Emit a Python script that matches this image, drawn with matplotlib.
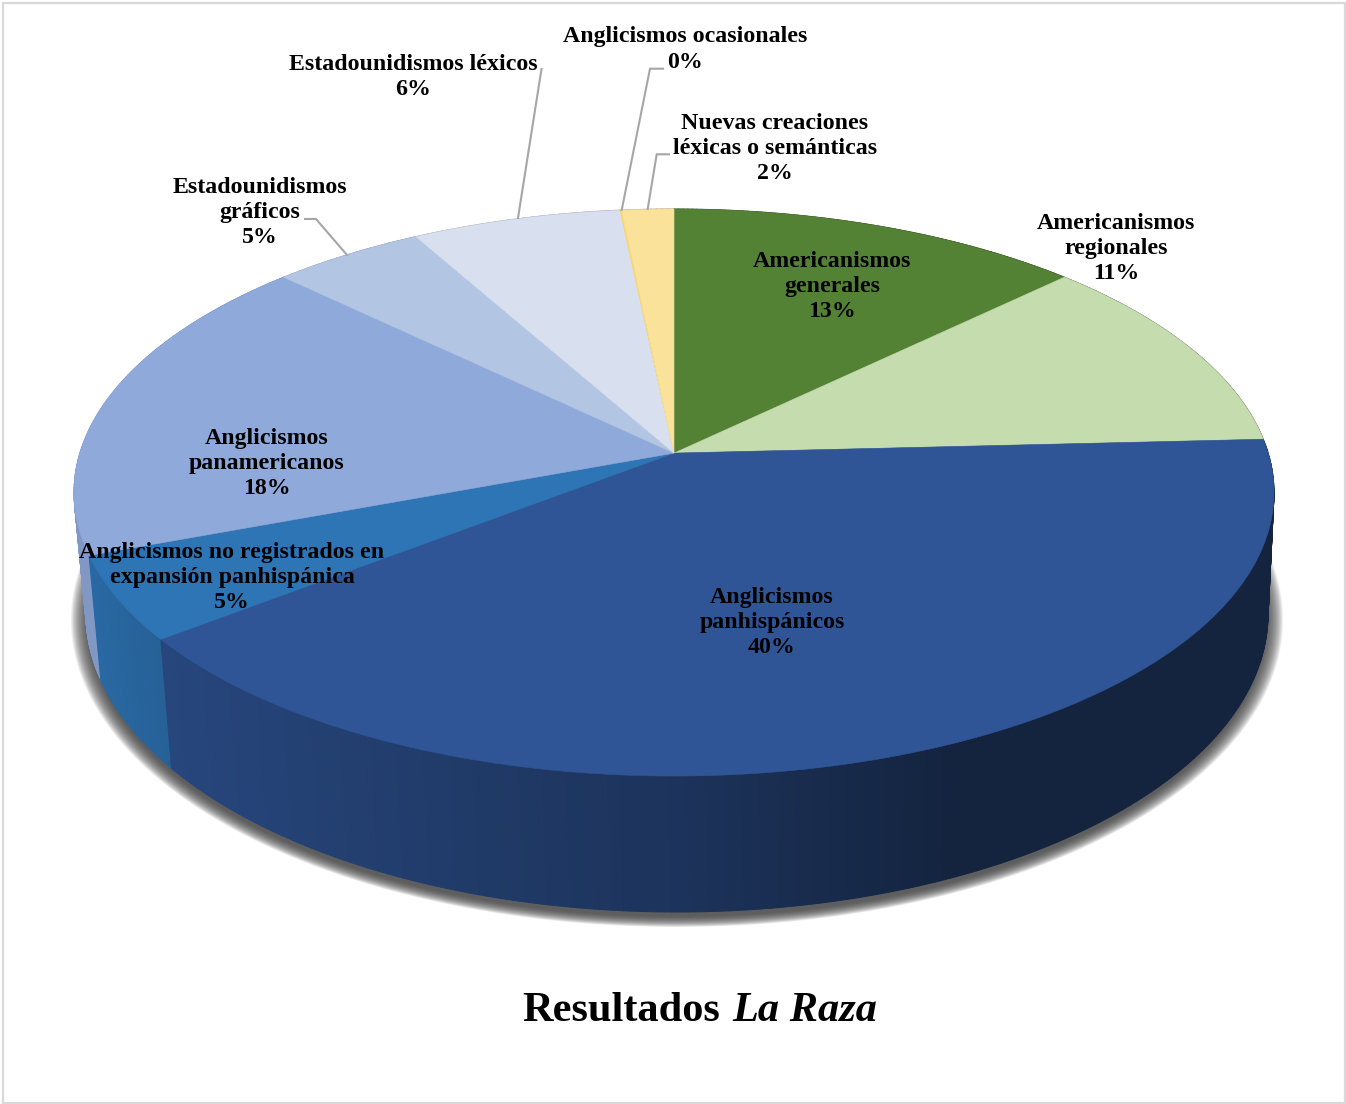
import numpy as np
import matplotlib
matplotlib.use("Agg")
import matplotlib.pyplot as plt
from matplotlib.collections import PolyCollection
from matplotlib.colors import to_rgb
from matplotlib.patches import Rectangle

# ---- data ----
categories = ["Americanismos\ngenerales", "Americanismos\nregionales", "Anglicismos\npanhispánicos",
              "Anglicismos no registrados en\nexpansión panhispánica", "Anglicismos\npanamericanos",
              "Estadounidismos\ngráficos", "Estadounidismos léxicos", "Anglicismos ocasionales",
              "Nuevas creaciones\nléxicas o semánticas"]
shares = [12.8, 11.4, 40.3, 4.8, 17.9, 4.7, 6.45, 0.05, 1.6]
colors = ["#548235", "#C5DDAE", "#2F5597", "#2E75B6", "#8FA9DB", "#B2C6E4", "#D8DFEF", "#FFD966", "#FAE29A"]
label_x = [832, 1116, 772, 232, 267, 259.5, 413, 685, 775]
label_y = [286.5, 248.5, 622.5, 577.5, 463.5, 212.5, 77, 49.5, 148.5]
title_main = "Resultados"
title_ital = "La Raza"

# ---- geometry of the perspective disk ----
TOP_CX, TOP_CY, TOP_A, TOP_B = 674, 492.5, 600, 283.5
BOT_CX, BOT_CY, BOT_A, BOT_B = 677, 614, 591, 298
PERSP = 0.139


def project(theta, cx, cy, a, b, r=1.0):
    """theta in radians clockwise from 12 o'clock, on the unit disk, to pixels"""
    x, y = r * np.sin(theta), r * np.cos(theta)
    d = 1 + PERSP * y
    return cx + a * x * np.sqrt(1 - PERSP ** 2) / d, cy - b * (y + PERSP) / d


def shade(x):
    return np.interp(x, [90, 170, 680, 950, 1274], [0.90, 0.82, 0.60, 0.42, 0.42])


fig = plt.figure(figsize=(13.46, 11.04), dpi=100, facecolor="white")
ax = fig.add_axes([0, 0, 1, 1])
ax.set_xlim(0, 1346)
ax.set_ylim(1104, 0)
ax.axis("off")
ax.add_patch(Rectangle((3, 3), 1341.5, 1099.5, fill=False, ec="#D9D9D9", lw=1.6, zorder=0))

# shadow: stacked soft layers under the wall
t = np.linspace(0, 2 * np.pi, 400)
for grow in np.linspace(15, -2, 18):
    ax.fill(BOT_CX + (BOT_A + grow) * np.cos(t), BOT_CY + 6 + (BOT_B + grow * 0.6) * np.sin(t),
            color="#404040", alpha=0.09, lw=0, zorder=1)

fractions = np.cumsum([0] + shares) / np.sum(shares) * 2 * np.pi

# wall
quads, quad_colors = [], []
for i, c in enumerate(colors):
    th = np.linspace(fractions[i], fractions[i + 1], max(2, int(np.degrees(fractions[i + 1] - fractions[i])) * 2))
    for t0, t1 in zip(th[:-1], th[1:]):
        x0, y0 = project(t0, TOP_CX, TOP_CY, TOP_A, TOP_B)
        x1, y1 = project(t1, TOP_CX, TOP_CY, TOP_A, TOP_B)
        x2, y2 = project(t1, BOT_CX, BOT_CY, BOT_A, BOT_B)
        x3, y3 = project(t0, BOT_CX, BOT_CY, BOT_A, BOT_B)
        quads.append([(x0, y0), (x1, y1), (x2, y2), (x3, y3)])
        quad_colors.append(np.array(to_rgb(c)) * shade((x0 + x1) / 2))
order = np.argsort([np.mean([p[1] for p in q]) for q in quads])
ax.add_collection(PolyCollection([quads[k] for k in order], facecolors=[quad_colors[k] for k in order],
                                 edgecolors="face", linewidths=0.7, zorder=2))

# top face
cx0, cy0 = project(0.0, TOP_CX, TOP_CY, TOP_A, TOP_B, r=0.0)
for i, c in enumerate(colors):
    th = np.linspace(fractions[i], fractions[i + 1], max(2, int(np.degrees(fractions[i + 1] - fractions[i])) * 3))
    xs, ys = project(th, TOP_CX, TOP_CY, TOP_A, TOP_B)
    ax.fill(np.r_[cx0, xs], np.r_[cy0, ys], facecolor=c, edgecolor=c, lw=0.4, zorder=3)

# leader lines
leaders = [([541.5, 518], [69, 218]),
           ([663, 650, 621.7], [68.7, 68.7, 210]),
           ([669, 656.7, 647.7], [154.3, 154.3, 209]),
           ([305, 316, 347], [219, 219, 255])]
for lx, ly in leaders:
    ax.plot(lx, ly, color="#A6A6A6", lw=1.5, zorder=4, solid_joinstyle="miter")

# labels
font = dict(family="Liberation Serif", weight="bold", fontsize=17.2, color="black")
for name, v, x, y in zip(categories, shares, label_x, label_y):
    ax.text(x, y, f"{name}\n{v:.0f}%", ha="center", va="center", multialignment="center",
            linespacing=1.27, zorder=5, **font)

# title
ax.text(720, 1011, title_main, ha="right", va="center", family="Liberation Serif", weight="bold", fontsize=30.5)
ax.text(732, 1011, title_ital, ha="left", va="center", family="Liberation Serif", weight="bold",
        style="italic", fontsize=30.5)

fig.savefig("out.png", dpi=100, facecolor="white")
